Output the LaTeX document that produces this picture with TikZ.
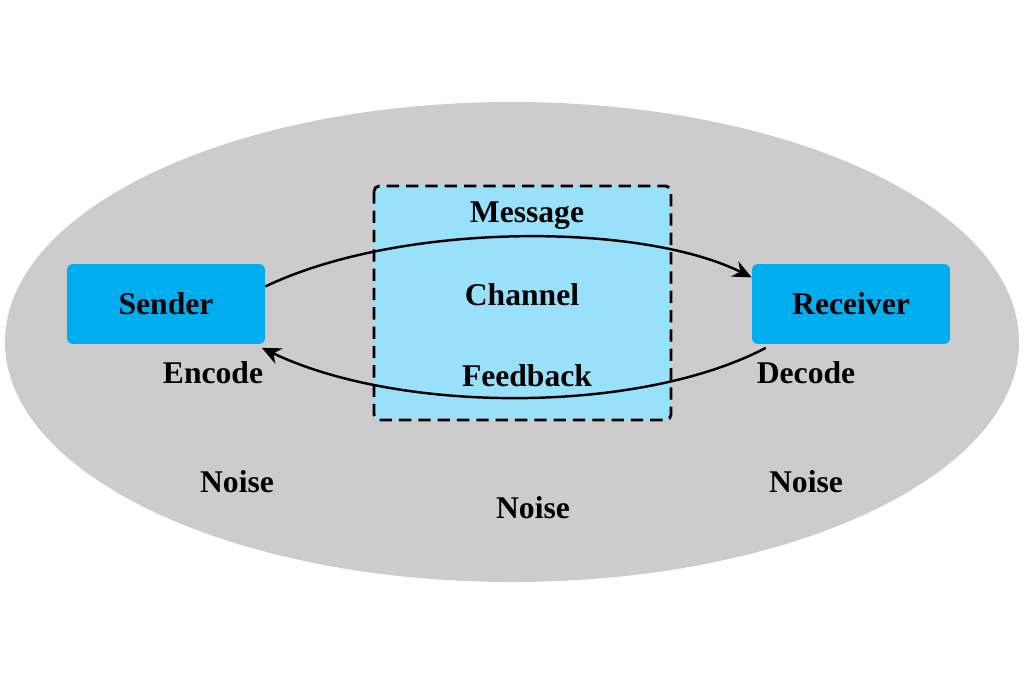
\documentclass[tikz,border=0pt]{standalone}
\usepackage{fontspec}
\setmainfont{Liberation Serif}
\usetikzlibrary{arrows.meta}

\definecolor{noisegray}{HTML}{CCCCCC}
\definecolor{boxblue}{HTML}{00AEEF}
\definecolor{chanblue}{HTML}{99E0FB}

\begin{document}
\begin{tikzpicture}[x=0.02cm,y=-0.02cm,
    party/.style={rectangle,rounded corners=3pt,fill=boxblue,minimum width=3.96cm,minimum height=1.6cm,inner sep=0pt},
    lbl/.style={font=\fontsize{18}{20}\selectfont\bfseries},
    flow/.style={-{Stealth[length=3.8mm,width=3.4mm]},line width=1.4pt}]
        \useasboundingbox (0,0) rectangle (1024,683);
        \fill[noisegray] (512,342) ellipse [x radius=507,y radius=240];
        \draw[fill=chanblue,line width=1.6pt,dash pattern=on 7pt off 4pt,rounded corners=3pt] (374,186) rectangle (671,420);
        \node [party] (sender) at (166,304) {};
        \node [party] (receiver) at (851,304) {};
        \node [lbl] at (sender) {Sender};
        \node [lbl] at (receiver) {Receiver};
        \node [lbl] (message) at (527,216) {Message};
        \node [lbl] (channel) at (522,295) {Channel};
        \node [lbl] (feedback) at (527,376) {Feedback};
        \node [lbl] (encode) at (213,373) {Encode};
        \node [lbl] (decode) at (806,373) {Decode};
        \node [lbl] (noise1) at (237,482) {Noise};
        \node [lbl] (noise2) at (533,508) {Noise};
        \node [lbl] (noise3) at (806,482) {Noise};
        \draw[flow] (sender.10) .. controls (400,222) and (640,222) .. (receiver.165);
        \draw[flow] ([xshift=8pt,yshift=-2pt]receiver.south west) .. controls (640,414) and (400,414) .. ([xshift=-2pt,yshift=-2pt]sender.south east);
\end{tikzpicture}
\end{document}
